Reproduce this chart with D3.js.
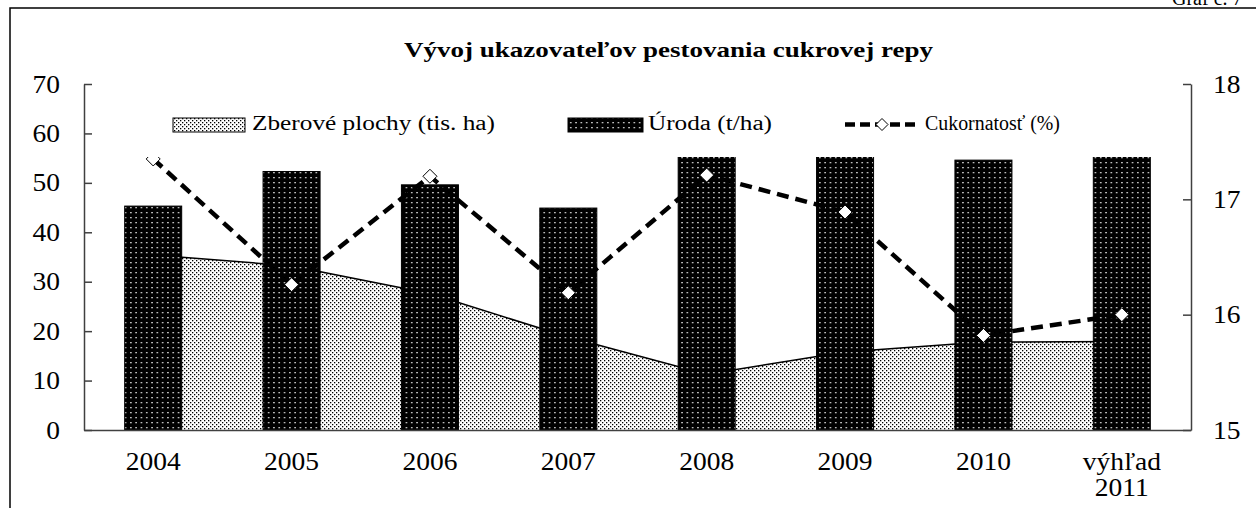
<!DOCTYPE html>
<html>
<head>
<meta charset="utf-8">
<script src="https://cdn.jsdelivr.net/npm/d3@7"></script>
<style>
  body { margin: 0; background: #fff; }
  svg { display: block; }
  svg text { font-family: "Liberation Serif", "Times New Roman", serif; }
</style>
</head>
<body>
<svg width="1256" height="508"></svg>
<script>
// data
const categories = ["2004", "2005", "2006", "2007", "2008", "2009", "2010", "výhľad 2011"];
const plochy = [35.4, 33.2, 27.6, 18.8, 11.3, 15.8, 17.8, 17.9];      // tis. ha
const uroda = [45.3, 52.3, 49.6, 44.9, 57.5, 59.0, 54.6, 57.0];       // t/ha (tops of 2008, 2009, 2011 hidden by legend)
const cukornatost = [17.35, 16.26, 17.2, 16.19, 17.21, 16.89, 15.82, 16.0]; // %
const leftTicks = [0, 10, 20, 30, 40, 50, 60, 70];
const rightTicks = [15, 16, 17, 18];
const seriesNames = ["Zberové plochy (tis. ha)", "Úroda (t/ha)", "Cukornatosť (%)"];

const serif = "Liberation Serif, Times New Roman, serif";
const svg = d3.select("svg");
const mLeft = 84, mRight = 1191, mTop = 84, mBottom = 430;

// frame round the chart
svg.append("rect")
  .attr("x", 10).attr("y", 8)
  .attr("width", 1300).attr("height", 600)
  .attr("fill", "none").attr("stroke", "#000").attr("stroke-width", 1.5);

svg.append("text")
  .attr("x", 1172).attr("y", 5)
  .attr("font-family", serif)
  .attr("font-size", 20)
  .text("Graf č. 7");

// patterns
const defs = svg.append("defs");
const pa = defs.append("pattern")
  .attr("id", "dotsArea").attr("patternUnits", "userSpaceOnUse")
  .attr("width", 4).attr("height", 4);
pa.append("rect").attr("width", 4).attr("height", 4).attr("fill", "#fff");
pa.append("rect").attr("x", 0).attr("y", 0).attr("width", 1.3).attr("height", 1.3).attr("fill", "#000");
pa.append("rect").attr("x", 2).attr("y", 2).attr("width", 1.3).attr("height", 1.3).attr("fill", "#000");

const pb = defs.append("pattern")
  .attr("id", "dotsBar").attr("patternUnits", "userSpaceOnUse")
  .attr("width", 5.3).attr("height", 5).attr("x", 1);
pb.append("rect").attr("width", 5.3).attr("height", 5).attr("fill", "#000");
pb.append("rect").attr("x", 2).attr("y", 2).attr("width", 1.3).attr("height", 1.3).attr("fill", "#fff");

// scales
const x = d3.scaleBand().domain(categories).range([mLeft, mRight]);
const y = d3.scaleLinear().domain([0, 70]).range([mBottom, mTop]);
const y2 = d3.scaleLinear().domain([15, 18]).range([mBottom, mTop]);
const cx = (i) => x(categories[i]) + x.bandwidth() / 2;
const barW = x.bandwidth() * 0.412;

// area (Zberové plochy)
const area = d3.area()
  .x((d, i) => cx(i))
  .y0(y(0))
  .y1((d) => y(d));
svg.append("path")
  .datum(plochy)
  .attr("fill", "url(#dotsArea)")
  .attr("d", area);
svg.append("path")
  .datum(plochy)
  .attr("fill", "none")
  .attr("stroke", "#000").attr("stroke-width", 1.5)
  .attr("d", d3.line().x((d, i) => cx(i)).y((d) => y(d)));

// columns (Úroda)
svg.selectAll("rect.bar")
  .data(uroda)
  .enter()
  .append("rect")
  .attr("class", "bar")
  .attr("x", (d, i) => cx(i) - barW / 2)
  .attr("y", (d) => y(d))
  .attr("width", barW)
  .attr("height", (d) => y(0) - y(d))
  .attr("fill", "url(#dotsBar)")
  .attr("stroke", "#000").attr("stroke-width", 1);

// dashed line (Cukornatosť)
svg.append("path")
  .datum(cukornatost)
  .attr("fill", "none")
  .attr("stroke", "#000").attr("stroke-width", 4.5)
  .attr("stroke-dasharray", "12,7")
  .attr("d", d3.line().x((d, i) => cx(i)).y((d) => y2(d)));

const diamond = (s) => `M0,${-s}L${s},0L0,${s}L${-s},0Z`;
svg.selectAll("path.mk")
  .data(cukornatost)
  .enter()
  .append("path")
  .attr("class", "mk")
  .attr("transform", (d, i) => `translate(${cx(i)},${y2(d)})`)
  .attr("d", diamond(7))
  .attr("fill", "#fff").attr("stroke", "#000").attr("stroke-width", 1);

// legend (white box, covers the tallest columns)
const lg = svg.append("g");
lg.append("rect")
  .attr("x", 105).attr("y", 96).attr("width", 1060).attr("height", 61)
  .attr("fill", "#fff");
lg.append("rect")
  .attr("x", 173).attr("y", 118).attr("width", 72).attr("height", 14)
  .attr("fill", "url(#dotsArea)").attr("stroke", "#000").attr("stroke-width", 1);
lg.append("rect")
  .attr("x", 568).attr("y", 118).attr("width", 75).attr("height", 14)
  .attr("fill", "url(#dotsBar)").attr("stroke", "#000").attr("stroke-width", 1);
lg.append("line")
  .attr("x1", 845).attr("x2", 918).attr("y1", 124.5).attr("y2", 124.5)
  .attr("stroke", "#000").attr("stroke-width", 4.5).attr("stroke-dasharray", "10,5");
lg.append("path")
  .attr("transform", "translate(882,124.5)")
  .attr("d", diamond(6))
  .attr("fill", "#fff").attr("stroke", "#000").attr("stroke-width", 1);

const legendText = [
  { x: 252, len: 243 },
  { x: 648, len: 124 },
  { x: 925, len: 135 },
];
lg.selectAll("text")
  .data(seriesNames)
  .enter()
  .append("text")
  .attr("x", (d, i) => legendText[i].x)
  .attr("y", 130)
  .attr("font-family", serif)
  .attr("font-size", 20)
  .attr("textLength", (d, i) => legendText[i].len)
  .attr("lengthAdjust", "spacingAndGlyphs")
  .text((d) => d);

// title
svg.append("text")
  .attr("x", 404).attr("y", 57)
  .attr("font-family", serif)
  .attr("font-size", 21).attr("font-weight", "bold")
  .attr("textLength", 529).attr("lengthAdjust", "spacingAndGlyphs")
  .text("Vývoj ukazovateľov pestovania cukrovej repy");

// axes
const yAxisL = d3.axisLeft(y).tickValues(leftTicks).tickFormat(d3.format("d"))
  .tickSizeInner(-8).tickSizeOuter(0).tickPadding(24);
const yAxisR = d3.axisRight(y2).tickValues(rightTicks).tickFormat(d3.format("d"))
  .tickSizeInner(-8).tickSizeOuter(0).tickPadding(22);
const xAxis = d3.axisBottom(x).tickSize(0).tickPadding(22);

const gl = svg.append("g").attr("transform", `translate(${mLeft},0)`).call(yAxisL);
const gr = svg.append("g").attr("transform", `translate(${mRight},0)`).call(yAxisR);
const gx = svg.append("g").attr("transform", `translate(0,${mBottom})`).call(xAxis);

[gl, gr, gx].forEach((g) => {
  g.attr("font-family", serif).attr("font-size", 25);
  g.selectAll("path, line").attr("stroke", "#404040").attr("stroke-width", 1.5);
  g.selectAll("text").attr("fill", "#000").attr("font-family", serif);
});

gx.selectAll(".tick text").each(function (d) {
  const parts = d.split(" ");
  if (parts.length > 1) {
    const t = d3.select(this).text(null);
    parts.forEach((p, k) => {
      t.append("tspan").attr("x", 0).attr("dy", k === 0 ? "0.71em" : "1.05em").text(p);
    });
  }
});

// the reference type is a little wider than Liberation Serif
[gl, gr].forEach((g) => {
  g.selectAll(".tick text").each(function () {
    const w = this.getComputedTextLength();
    d3.select(this).attr("textLength", w * 1.1).attr("lengthAdjust", "spacingAndGlyphs");
  });
});
gx.selectAll(".tick text").each(function () {
  const el = d3.select(this);
  const spans = el.selectAll("tspan");
  if (spans.empty()) {
    el.attr("textLength", this.getComputedTextLength() * 1.1).attr("lengthAdjust", "spacingAndGlyphs");
  } else {
    spans.each(function () {
      d3.select(this).attr("textLength", this.getComputedTextLength() * 1.1).attr("lengthAdjust", "spacingAndGlyphs");
    });
  }
});
</script>
</body>
</html>
